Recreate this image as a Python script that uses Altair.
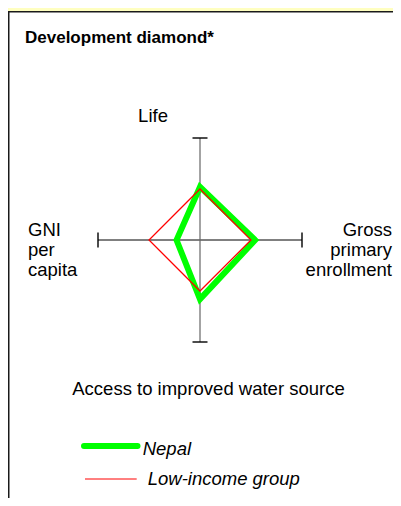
import altair as alt
import pandas as pd

# ---- data ----
axis_names = ["Life", "Gross primary enrollment", "Access to improved water source", "GNI per capita"]
nepal = [52, 54, 58, 23]
low_income = [50, 50, 50, 50]
series = ["Nepal", "Low-income group"]
series_colors = ["#00FF00", "#FF0000"]
series_widths = [6, 1.25]
axis_max = 100

# direction of each diamond axis (up, right, down, left)
dir_x = [0, 1, 0, -1]
dir_y = [1, 0, -1, 0]

FONT = "Liberation Sans, Arial, Helvetica, sans-serif"

xs = alt.Scale(domain=[-axis_max, axis_max], range=[90, 294], nice=False, zero=False)
ys = alt.Scale(domain=[-axis_max, axis_max], range=[334, 130], nice=False, zero=False)

one = pd.DataFrame({"k": [0]})

# white panel with border
panel = alt.Chart(one).mark_rect(fill="white", stroke="#1a1a1a", strokeWidth=1.5).encode(
    x=alt.value(0.75), x2=alt.value(420), y=alt.value(3.75), y2=alt.value(520)
)

# cross axes
hz = pd.DataFrame({"x": [-axis_max], "x2": [axis_max], "y": [0]})
vt = pd.DataFrame({"x": [0], "y": [-axis_max], "y2": [axis_max]})
h_rule = alt.Chart(hz).mark_rule(color="#000000", strokeWidth=1).encode(
    x=alt.X("x:Q", scale=xs, axis=None), x2="x2:Q", y=alt.Y("y:Q", scale=ys, axis=None)
)
v_rule = alt.Chart(vt).mark_rule(color="#666666", strokeWidth=1.2).encode(
    x=alt.X("x:Q", scale=xs, axis=None), y=alt.Y("y:Q", scale=ys, axis=None), y2="y2:Q"
)
h_ends = pd.DataFrame({"x": [-axis_max, axis_max], "y": [0, 0]})
v_ends = pd.DataFrame({"x": [0, 0], "y": [-axis_max, axis_max]})
h_ticks = alt.Chart(h_ends).mark_tick(orient="vertical", size=15, thickness=2, color="#000000").encode(
    x=alt.X("x:Q", scale=xs, axis=None), y=alt.Y("y:Q", scale=ys, axis=None)
)
v_ticks = alt.Chart(v_ends).mark_tick(orient="horizontal", size=15, thickness=2, color="#000000").encode(
    x=alt.X("x:Q", scale=xs, axis=None), y=alt.Y("y:Q", scale=ys, axis=None)
)

# diamonds: walk the 4 axes, then revisit the first two so every corner gets a join
layers = []
for s, vals, col, w in zip(series, [nepal, low_income], series_colors, series_widths):
    idx = [0, 1, 2, 3, 0, 1]
    d = pd.DataFrame({
        "series": s,
        "axis": [axis_names[i] for i in idx],
        "order": list(range(len(idx))),
        "x": [dir_x[i] * vals[i] for i in idx],
        "y": [dir_y[i] * vals[i] for i in idx],
    })
    layers.append(
        alt.Chart(d).mark_line(strokeJoin="miter", color=col, strokeWidth=w, opacity=1).encode(
            x=alt.X("x:Q", scale=xs, axis=None),
            y=alt.Y("y:Q", scale=ys, axis=None),
            order="order:Q",
        )
    )


def label(text, x, y, align="left", size=18.5, weight="normal", style="normal"):
    return alt.Chart(pd.DataFrame({"t": [text]})).mark_text(
        align=align, baseline="alphabetic", font=FONT, fontSize=size,
        fontWeight=weight, fontStyle=style, color="#000000"
    ).encode(text="t:N", x=alt.value(x), y=alt.value(y))


texts = [
    label("Development diamond*", 17, 34.5, size=17, weight="bold"),
    label("Life", 145, 114, align="center"),
    label("GNI", 20, 228),
    label("per", 20, 248),
    label("capita", 20, 268),
    label("Gross", 384, 228, align="right"),
    label("primary", 384, 248, align="right"),
    label("enrollment", 384, 268, align="right"),
    label("Access to improved water source", 200.5, 387, align="center"),
]

# legend
legend_y = [438, 471]
legend_text_x = [134.7, 139.7]
legend_text_y = [447, 477]
legend_x = [[76, 129.5], [77, 128.7]]
legend_layers = []
for s, col, w, ly, lx, tx, ty in zip(series, series_colors, series_widths, legend_y, legend_x, legend_text_x, legend_text_y):
    legend_layers.append(
        alt.Chart(one).mark_rule(color=col, strokeWidth=min(w, 1) if w < 2 else w,
                                 strokeCap="round" if w > 2 else "butt").encode(
            x=alt.value(lx[0]), x2=alt.value(lx[1]), y=alt.value(ly)
        )
    )
    legend_layers.append(label(s, tx, ty, style="italic"))

chart = alt.layer(
    panel, h_rule, v_rule, h_ticks, v_ticks, *layers, *texts, *legend_layers
).properties(
    width=385, height=490, padding=0, autosize=alt.AutoSizeParams(type="none"),
    background="#FFFFC0",
).configure_view(strokeWidth=0)

chart.save("out.html", embed_options={"renderer": "svg", "actions": False})
